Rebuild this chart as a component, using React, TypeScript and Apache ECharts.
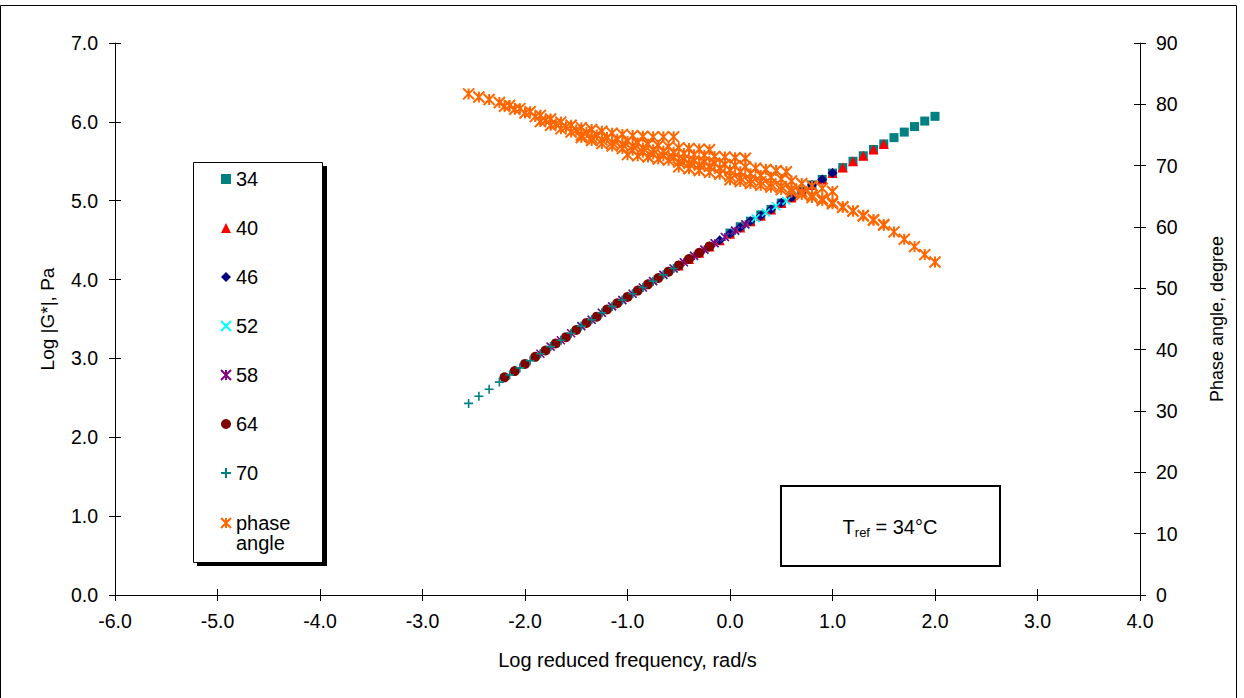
import React, { useEffect, useRef } from "react";
import * as echarts from "echarts";

// Log reduced frequency (rad/s) for each test temperature (°C)
const freq34 = [0.0, 0.1, 0.2, 0.3, 0.4, 0.5, 0.6, 0.7, 0.8, 0.9, 1.0, 1.1, 1.2, 1.3, 1.4, 1.5, 1.6, 1.7, 1.8, 1.9, 2.0];
const freq40 = [-0.5, -0.4, -0.3, -0.2, -0.1, 0.0, 0.1, 0.2, 0.3, 0.4, 0.5, 0.6, 0.7, 0.8, 0.9, 1.0, 1.1, 1.2, 1.3, 1.4, 1.5];
const freq46 = [-1.0, -0.9, -0.8, -0.7, -0.6, -0.5, -0.4, -0.3, -0.2, -0.1, 0.0, 0.1, 0.2, 0.3, 0.4, 0.5, 0.6, 0.7, 0.8, 0.9, 1.0];
const freq52 = [-1.45, -1.35, -1.25, -1.15, -1.05, -0.95, -0.85, -0.75, -0.65, -0.55, -0.45, -0.35, -0.25, -0.15, -0.05, 0.05, 0.15, 0.25, 0.35, 0.45, 0.55];
const freq58 = [-1.85, -1.75, -1.65, -1.55, -1.45, -1.35, -1.25, -1.15, -1.05, -0.95, -0.85, -0.75, -0.65, -0.55, -0.45, -0.35, -0.25, -0.15, -0.05, 0.05, 0.15];
const freq64 = [-2.2, -2.1, -2.0, -1.9, -1.8, -1.7, -1.6, -1.5, -1.4, -1.3, -1.2, -1.1, -1.0, -0.9, -0.8, -0.7, -0.6, -0.5, -0.4, -0.3, -0.2];
const freq70 = [-2.55, -2.45, -2.35, -2.25, -2.15, -2.05, -1.95, -1.85, -1.75, -1.65, -1.55, -1.45, -1.35, -1.25, -1.15, -1.05, -0.95, -0.85, -0.75, -0.65, -0.55];

// Log |G*| (Pa)
const g34 = [4.59, 4.67, 4.74, 4.82, 4.89, 4.97, 5.05, 5.12, 5.20, 5.27, 5.35, 5.42, 5.50, 5.57, 5.65, 5.72, 5.80, 5.87, 5.94, 6.01, 6.07];
const g40 = [4.18, 4.26, 4.34, 4.42, 4.50, 4.58, 4.66, 4.74, 4.81, 4.89, 4.97, 5.04, 5.12, 5.20, 5.27, 5.35, 5.42, 5.50, 5.57, 5.65, 5.72];
const g46 = [3.78, 3.86, 3.94, 4.02, 4.10, 4.18, 4.26, 4.34, 4.42, 4.50, 4.58, 4.66, 4.74, 4.81, 4.89, 4.97, 5.04, 5.12, 5.20, 5.27, 5.35];
const g52 = [3.41, 3.49, 3.58, 3.66, 3.74, 3.82, 3.90, 3.98, 4.06, 4.14, 4.22, 4.30, 4.38, 4.46, 4.54, 4.62, 4.70, 4.78, 4.85, 4.93, 5.00];
const g58 = [3.06, 3.15, 3.23, 3.32, 3.41, 3.49, 3.58, 3.66, 3.74, 3.82, 3.90, 3.98, 4.06, 4.14, 4.22, 4.30, 4.38, 4.46, 4.54, 4.62, 4.70];
const g64 = [2.76, 2.84, 2.93, 3.02, 3.10, 3.19, 3.27, 3.36, 3.45, 3.53, 3.62, 3.70, 3.78, 3.86, 3.94, 4.02, 4.10, 4.18, 4.26, 4.34, 4.42];
const g70 = [2.43, 2.52, 2.61, 2.70, 2.79, 2.88, 2.97, 3.06, 3.15, 3.23, 3.32, 3.41, 3.49, 3.58, 3.66, 3.74, 3.82, 3.90, 3.98, 4.06, 4.14];

// Phase angle (degree)
const p34 = [67.7, 67.4, 67.1, 66.8, 66.5, 66.1, 65.7, 65.3, 64.8, 64.3, 63.8, 63.2, 62.6, 61.9, 61.2, 60.4, 59.2, 58.0, 56.8, 55.5, 54.3];
const p40 = [69.8, 69.5, 69.2, 68.9, 68.6, 68.3, 68.0, 67.7, 67.4, 67.0, 66.6, 66.2, 65.7, 65.2, 64.6, 64.0, 63.3, 62.6, 61.8, 61.1, 60.3];
const p46 = [71.8, 71.6, 71.4, 71.1, 70.9, 70.6, 70.4, 70.1, 69.9, 69.6, 69.3, 69.0, 68.7, 68.4, 68.1, 67.8, 67.5, 67.1, 66.7, 66.3, 65.8];
const p52 = [74.6, 74.1, 73.6, 73.2, 72.8, 72.5, 72.2, 71.9, 71.6, 71.3, 71.0, 70.8, 70.6, 70.4, 70.2, 70.0, 69.8, 69.6, 69.4, 69.2, 69.0];
const p58 = [77.2, 76.6, 76.0, 75.5, 75.0, 74.6, 74.2, 73.8, 73.5, 73.2, 72.9, 72.6, 72.4, 72.2, 72.0, 71.8, 71.7, 71.5, 71.4, 71.3, 71.2];
const p64 = [79.7, 79.2, 78.6, 78.0, 77.4, 76.8, 76.3, 75.8, 75.4, 75.0, 74.6, 74.3, 74.0, 73.7, 73.5, 73.3, 73.1, 72.9, 72.8, 72.7, 72.6];
const p70 = [81.7, 81.2, 80.8, 80.3, 79.8, 79.3, 78.8, 78.2, 77.6, 77.1, 76.6, 76.2, 75.9, 75.6, 75.3, 75.1, 74.9, 74.8, 74.7, 74.7, 74.7];

const temperatures = ["34", "40", "46", "52", "58", "64", "70"];
const phaseName = "phase angle";
const refParts = ["T", "ref", " = 34°C"];

const FONT = "'Liberation Sans', Arial, sans-serif";

const zip = (xs: number[], ys: number[]) => xs.map((x, i) => [x, ys[i]]);

const X_MARK = "path://M0,0L10,10M10,0L0,10";
const PLUS_MARK = "path://M5,0L5,10M0,5L10,5";
const STAR_MARK = "path://M0,0L10,10M10,0L0,10M5,0L5,10";

export default function App() {
  const ref = useRef<HTMLDivElement>(null);

  useEffect(() => {
    if (!ref.current) return;
    const chart = echarts.init(ref.current, null, { renderer: "svg" });

    const gSets = [
      { f: freq34, g: g34 },
      { f: freq40, g: g40 },
      { f: freq46, g: g46 },
      { f: freq52, g: g52 },
      { f: freq58, g: g58 },
      { f: freq64, g: g64 },
      { f: freq70, g: g70 },
    ];
    const styles = [
      { symbol: "rect", size: 9, color: "#008080", stroke: 0 },
      { symbol: "triangle", size: 10, color: "#FF0000", stroke: 0 },
      { symbol: "diamond", size: 10, color: "#000080", stroke: 0 },
      { symbol: X_MARK, size: 8, color: "#00FFFF", stroke: 1.6 },
      { symbol: STAR_MARK, size: 8, color: "#800080", stroke: 1.6 },
      { symbol: "circle", size: 10, color: "#800000", stroke: 0 },
      { symbol: PLUS_MARK, size: 9, color: "#008080", stroke: 1.6 },
    ];

    const phaseData = [
      ...zip(freq34, p34),
      ...zip(freq40, p40),
      ...zip(freq46, p46),
      ...zip(freq52, p52),
      ...zip(freq58, p58),
      ...zip(freq64, p64),
      ...zip(freq70, p70),
    ];

    const series: any[] = temperatures.map((t, i) => ({
      name: t,
      type: "scatter",
      xAxisIndex: 0,
      yAxisIndex: 0,
      data: zip(gSets[i].f, gSets[i].g),
      symbol: styles[i].symbol,
      symbolSize: styles[i].size,
      itemStyle: {
        color: styles[i].color,
        borderColor: styles[i].color,
        borderWidth: styles[i].stroke,
        opacity: 1,
      },
      z: 2 + i * 0.01,
    }));
    series.push({
      name: phaseName,
      type: "scatter",
      xAxisIndex: 0,
      yAxisIndex: 1,
      data: phaseData,
      symbol: STAR_MARK,
      symbolSize: 11,
      itemStyle: { color: "#FF6600", borderColor: "#FF6600", borderWidth: 2, opacity: 1 },
      z: 3,
    });

    const axisText = { color: "#000", fontFamily: FONT, fontSize: 19.5 };
    const tickStyle = { lineStyle: { color: "#000", width: 1 } };
    const hiddenLine = { show: false, onZero: false };
    const mainLine = { show: true, onZero: false, lineStyle: { color: "#000", width: 1 } };

    chart.setOption({
      animation: false,
      backgroundColor: "#ffffff",
      textStyle: { fontFamily: FONT },
      grid: { left: 115, right: 104, top: 43, bottom: 103, containLabel: false },
      xAxis: [
        {
          type: "value",
          min: -6,
          max: 4,
          interval: 1,
          position: "bottom",
          axisLine: mainLine,
          axisTick: { show: true, length: 6, ...tickStyle },
          axisLabel: { ...axisText, margin: 16, formatter: (v: number) => v.toFixed(1) },
          splitLine: { show: false },
          name: "Log reduced frequency, rad/s",
          nameLocation: "middle",
          nameGap: 55,
          nameTextStyle: { color: "#000", fontFamily: FONT, fontSize: 20 },
        },
        {
          type: "value",
          min: -6,
          max: 4,
          interval: 1,
          position: "bottom",
          axisLine: hiddenLine,
          axisTick: { show: true, inside: true, length: 6, ...tickStyle },
          axisLabel: { show: false },
          splitLine: { show: false },
        },
      ],
      yAxis: [
        {
          type: "value",
          min: 0,
          max: 7,
          interval: 1,
          position: "left",
          axisLine: mainLine,
          axisTick: { show: true, length: 6, ...tickStyle },
          axisLabel: { ...axisText, margin: 17, formatter: (v: number) => v.toFixed(1) },
          splitLine: { show: false },
          name: "Log |G*|, Pa",
          nameLocation: "middle",
          nameRotate: 90,
          nameGap: 58,
          nameTextStyle: { color: "#000", fontFamily: FONT, fontSize: 19 },
        },
        {
          type: "value",
          min: 0,
          max: 90,
          interval: 10,
          position: "right",
          axisLine: mainLine,
          axisTick: { show: true, length: 6, ...tickStyle },
          axisLabel: { ...axisText, margin: 16 },
          splitLine: { show: false },
          name: "Phase angle, degree",
          nameLocation: "middle",
          nameRotate: 90,
          nameGap: 68,
          nameTextStyle: { color: "#000", fontFamily: FONT, fontSize: 18 },
        },
        {
          type: "value",
          min: 0,
          max: 7,
          interval: 1,
          position: "left",
          axisLine: hiddenLine,
          axisTick: { show: true, inside: true, length: 6, ...tickStyle },
          axisLabel: { show: false },
          splitLine: { show: false },
        },
        {
          type: "value",
          min: 0,
          max: 90,
          interval: 10,
          position: "right",
          axisLine: hiddenLine,
          axisTick: { show: true, inside: true, length: 6, ...tickStyle },
          axisLabel: { show: false },
          splitLine: { show: false },
        },
      ],
      legend: [
        {
          orient: "vertical",
          left: 220,
          top: 169,
          padding: 0,
          itemWidth: 10,
          itemHeight: 10,
          itemGap: 29,
          selectedMode: false,
          data: temperatures,
          textStyle: { fontSize: 20, lineHeight: 20, color: "#000", fontFamily: FONT },
          z: 10,
        },
        {
          orient: "vertical",
          left: 220,
          top: 493,
          padding: 0,
          itemWidth: 10,
          itemHeight: 10,
          selectedMode: false,
          data: [phaseName],
          formatter: () => " \nphase\nangle",
          textStyle: { fontSize: 20, lineHeight: 20, color: "#000", fontFamily: FONT },
          z: 10,
        },
      ],
      graphic: [
        {
          type: "rect",
          z: 0,
          silent: true,
          shape: { x: 0.5, y: 5.5, width: 1236, height: 720 },
          style: { fill: "none", stroke: "#000", lineWidth: 1 },
        },
        {
          type: "rect",
          z: 5,
          silent: true,
          shape: { x: 197, y: 166, width: 130, height: 400 },
          style: { fill: "#000" },
        },
        {
          type: "rect",
          z: 6,
          silent: true,
          shape: { x: 193.5, y: 162.5, width: 129, height: 400 },
          style: { fill: "#fff", stroke: "#000", lineWidth: 1 },
        },
        {
          type: "rect",
          z: 6,
          silent: true,
          shape: { x: 781, y: 486, width: 219, height: 80 },
          style: { fill: "#fff", stroke: "#000", lineWidth: 2 },
        },
        {
          type: "text",
          z: 7,
          silent: true,
          x: 890,
          y: 527,
          style: {
            text: `{a|${refParts[0]}}{b|${refParts[1]}}{a|${refParts[2]}}`,
            align: "center",
            verticalAlign: "middle",
            fill: "#000",
            rich: {
              a: { fontSize: 20, fontFamily: FONT, fill: "#000", lineHeight: 24 },
              b: { fontSize: 13, fontFamily: FONT, fill: "#000", lineHeight: 13, padding: [10, 0, 0, 0] },
            },
          },
        },
      ],
      series,
    });

    return () => chart.dispose();
  }, []);

  return (
    <div
      ref={ref}
      style={{ position: "absolute", left: 0, top: 0, width: 1244, height: 698, background: "#fff" }}
    />
  );
}
